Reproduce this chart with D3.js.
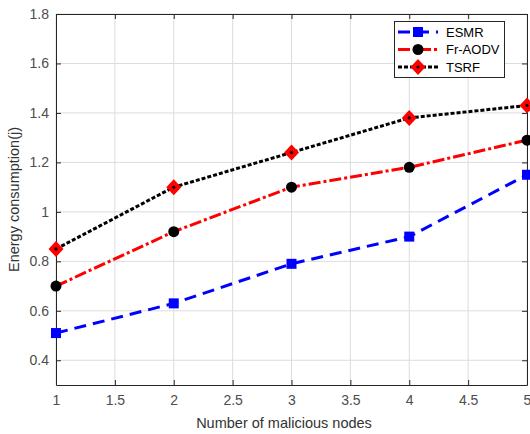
<!DOCTYPE html>
<html>
<head>
<meta charset="utf-8">
<script src="https://cdn.jsdelivr.net/npm/d3@7"></script>
<style>
  body { margin: 0; background: #fff; }
  svg text { font-family: "Liberation Sans", Arial, sans-serif; }
</style>
</head>
<body>
<div id="outer"></div>
<script>
// DATA //
const nodes = [1, 2, 3, 4, 5];
const esmr = [0.51, 0.63, 0.79, 0.90, 1.15];
const frAodv = [0.70, 0.92, 1.10, 1.18, 1.29];
const tsrf = [0.85, 1.10, 1.24, 1.38, 1.43];
const xTicks = [1, 1.5, 2, 2.5, 3, 3.5, 4, 4.5, 5];
const yTicks = [0.4, 0.6, 0.8, 1, 1.2, 1.4, 1.6, 1.8];

const width = 530, height = 434;
const margin = {top: 14, left: 56, right: 3, bottom: 49};

const svg = d3.select('#outer').append('svg')
  .attr('width', width)
  .attr('height', height);

const x = d3.scaleLinear().domain([1, 5]).range([margin.left, width - margin.right]);
const y = d3.scaleLinear().domain([0.3, 1.8]).range([height - margin.bottom, margin.top]);

const axisColor = '#262626';
const labelColor = '#4d4d4d';

// GRID //
const grid = svg.append('g').attr('class', 'grid');
grid.selectAll('.vg').data(xTicks).join('line')
  .attr('x1', d => x(d)).attr('x2', d => x(d))
  .attr('y1', y.range()[0]).attr('y2', y.range()[1])
  .attr('stroke', '#dcdcdc').attr('stroke-width', 1);
grid.selectAll('.hg').data(yTicks).join('line')
  .attr('y1', d => y(d)).attr('y2', d => y(d))
  .attr('x1', x.range()[0]).attr('x2', x.range()[1])
  .attr('stroke', '#dcdcdc').attr('stroke-width', 1);

// AXES //
const fmt = d => String(d);
const xAxis = svg.append('g')
  .attr('transform', `translate(0,${y.range()[0]})`)
  .call(d3.axisBottom(x).tickValues(xTicks).tickFormat(fmt).tickSizeInner(-5).tickSizeOuter(0).tickPadding(10));
const xAxisTop = svg.append('g')
  .attr('transform', `translate(0,${y.range()[1]})`)
  .call(d3.axisTop(x).tickValues(xTicks).tickFormat('').tickSizeInner(-5).tickSizeOuter(0));
const yAxis = svg.append('g')
  .attr('transform', `translate(${x.range()[0]},0)`)
  .call(d3.axisLeft(y).tickValues(yTicks).tickFormat(fmt).tickSizeInner(-5).tickSizeOuter(0).tickPadding(7));
const yAxisRight = svg.append('g')
  .attr('transform', `translate(${x.range()[1]},0)`)
  .call(d3.axisRight(y).tickValues(yTicks).tickFormat('').tickSizeInner(-5).tickSizeOuter(0));

[xAxis, xAxisTop, yAxis, yAxisRight].forEach(a => {
  a.select('.domain').attr('stroke', axisColor).attr('stroke-width', 1);
  a.selectAll('.tick line').attr('stroke', axisColor);
  a.selectAll('.tick text').attr('fill', labelColor).style('font-size', '14px');
});

svg.append('text')
  .attr('x', 284)
  .attr('y', 428)
  .attr('text-anchor', 'middle')
  .attr('fill', '#333')
  .style('font-size', '14.5px')
  .text('Number of malicious nodes');

svg.append('text')
  .attr('transform', `translate(19,${(y.range()[0] + y.range()[1]) / 2}) rotate(-90)`)
  .attr('text-anchor', 'middle')
  .attr('fill', '#333')
  .style('font-size', '14.5px')
  .text('Energy consumption(j)');

// SERIES //
const series = [
  {name: 'ESMR', values: esmr, color: '#0000ff', dash: '12,7', marker: 'square'},
  {name: 'Fr-AODV', values: frAodv, color: '#ff0000', dash: '12,3,3,3', marker: 'circle'},
  {name: 'TSRF', values: tsrf, color: '#000000', dash: '4,2', marker: 'diamond'}
];

const line = d3.line().x((d, i) => x(nodes[i])).y(d => y(d));

function drawMarker(g, type, cx, cy) {
  if (type === 'square') {
    g.append('rect').attr('x', cx - 5).attr('y', cy - 5).attr('width', 10).attr('height', 10)
      .attr('fill', '#0000ff');
  } else if (type === 'circle') {
    g.append('circle').attr('cx', cx).attr('cy', cy).attr('r', 5.5).attr('fill', '#000');
  } else {
    g.append('path').attr('d', `M${cx},${cy - 8}L${cx + 7.5},${cy}L${cx},${cy + 8}L${cx - 7.5},${cy}Z`)
      .attr('fill', '#ff0000');
    g.append('circle').attr('cx', cx).attr('cy', cy).attr('r', 1.6).attr('fill', '#000');
  }
}

const plot = svg.append('g').attr('class', 'plot');
series.forEach(s => {
  plot.append('path')
    .attr('d', line(s.values))
    .attr('fill', 'none')
    .attr('stroke', s.color)
    .attr('stroke-width', 3)
    .attr('stroke-dasharray', s.dash);
  const mg = plot.append('g');
  s.values.forEach((v, i) => drawMarker(mg, s.marker, x(nodes[i]), y(v)));
});

// LEGEND //
const legend = svg.append('g').attr('class', 'legend');
legend.append('rect')
  .attr('x', 394.5).attr('y', 21.5).attr('width', 110).attr('height', 56)
  .attr('fill', '#fff').attr('stroke', axisColor).attr('stroke-width', 1);
series.forEach((s, i) => {
  const ly = 32 + i * 17.5;
  legend.append('line')
    .attr('x1', 398).attr('x2', 438).attr('y1', ly).attr('y2', ly)
    .attr('stroke', s.color).attr('stroke-width', 3)
    .attr('stroke-dasharray', s.dash);
  drawMarker(legend, s.marker, 418, ly);
  legend.append('text')
    .attr('x', 446).attr('y', ly + 4.5)
    .attr('fill', '#000')
    .style('font-size', '13px')
    .text(s.name);
});
</script>
</body>
</html>
